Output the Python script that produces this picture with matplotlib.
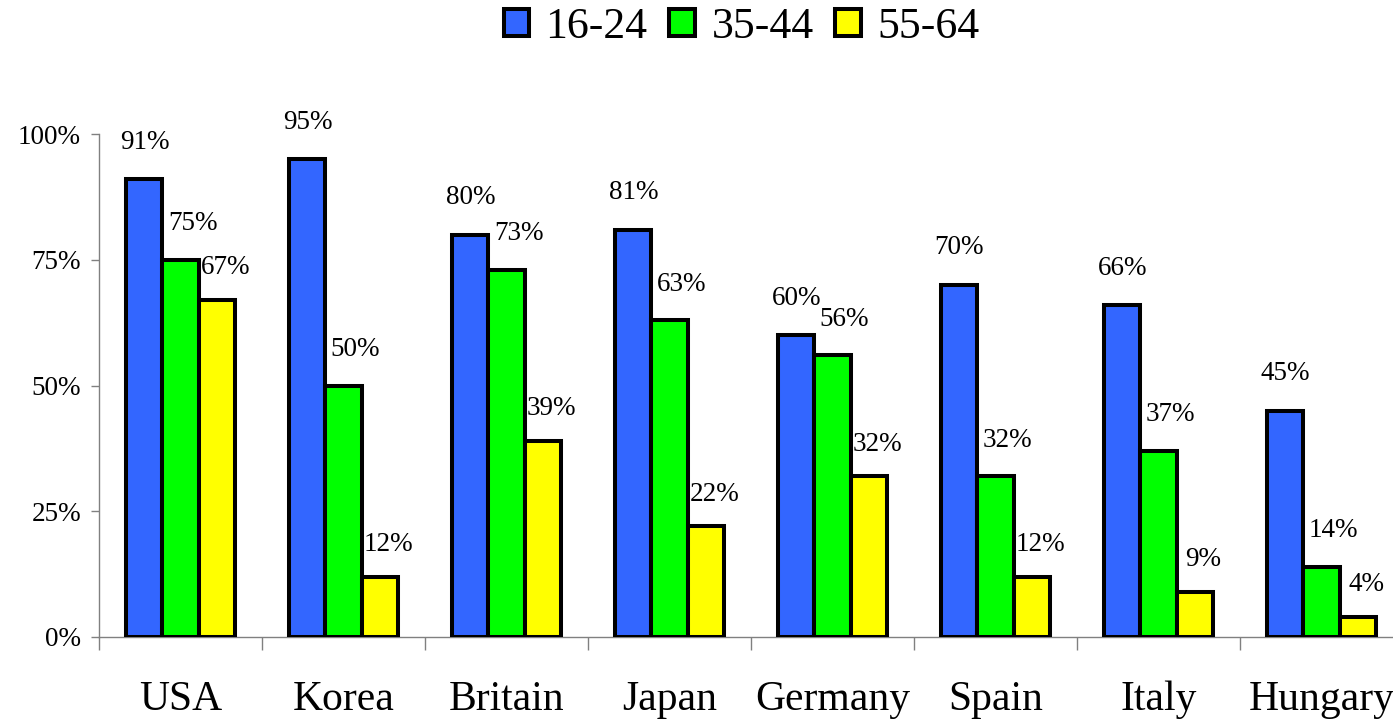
import matplotlib
matplotlib.use("Agg")
import matplotlib.pyplot as plt
from matplotlib.patches import Patch
import numpy as np

countries = ["USA", "Korea", "Britain", "Japan", "Germany", "Spain", "Italy", "Hungary"]
age_groups = ["16-24", "35-44", "55-64"]
share_16_24 = [91, 95, 80, 81, 60, 70, 66, 45]
share_35_44 = [75, 50, 73, 63, 56, 32, 37, 14]
share_55_64 = [67, 12, 39, 22, 32, 12, 9, 4]
y_ticks = [0, 25, 50, 75, 100]
y_tick_labels = ["0%", "25%", "50%", "75%", "100%"]

series = [share_16_24, share_35_44, share_55_64]
colors = ["#3366FF", "#00FF00", "#FFFF00"]
# label offsets (pixels) from the top centre of each bar
label_offsets = [(0, 37), (12, 36), (9, 32)]

plt.rcParams["font.family"] = ["Liberation Serif", "DejaVu Serif"]

W, H = 1393, 722
fig = plt.figure(figsize=(W / 100, H / 100), dpi=100)
ax = fig.add_axes([99 / W, 1 - 637 / H, 1304 / W, 503 / H])

x = np.arange(len(countries))
bw = 0.221
for i, (vals, col) in enumerate(zip(series, colors)):
    pos = x + (i - 1) * bw
    ax.bar(pos, vals, width=bw, color=col, edgecolor="black", linewidth=2.9,
           zorder=3)
    dx, dy = label_offsets[i]
    for p, v in zip(pos, vals):
        ax.annotate(f"{v}%", (p, v), xytext=(dx, dy), textcoords="offset pixels",
                    ha="center", va="center", fontsize=19.5, color="black")

ax.set_xlim(-0.5, len(countries) - 0.5)
ax.set_ylim(0, 100)

for s in ["top", "right"]:
    ax.spines[s].set_visible(False)
for s in ["left", "bottom"]:
    ax.spines[s].set_color("#808080")
    ax.spines[s].set_linewidth(1.0)

ax.set_yticks(y_ticks)
ax.set_yticklabels(y_tick_labels, fontsize=19.5)
ax.tick_params(axis="y", direction="out", length=6, width=1.0, color="#808080", pad=7)

ax.set_xticks(x)
ax.set_xticklabels(countries, fontsize=30)
ax.tick_params(axis="x", which="major", length=0, pad=31)
ax.set_xticks(np.arange(len(countries) + 1) - 0.5, minor=True)
ax.tick_params(axis="x", which="minor", direction="out", length=9, width=1.0,
               color="#808080")

handles = [Patch(facecolor=c, edgecolor="black", linewidth=2.9) for c in colors]
fig.legend(handles, age_groups, loc="center", bbox_to_anchor=(741.5 / W, 1 - 27 / H),
           ncol=3, frameon=False, fontsize=31.5, handlelength=0.58, handleheight=0.58,
           handletextpad=0.38, columnspacing=0.5, borderpad=0)

fig.savefig("out.png", dpi=100)
